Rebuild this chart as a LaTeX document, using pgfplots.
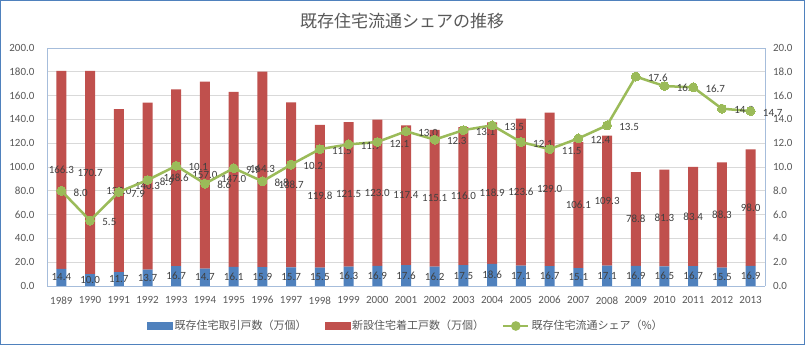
\documentclass[border=0pt]{standalone}
\usepackage{pgfplots}
\pgfplotsset{compat=1.18}
\usepackage{pgfplotstable}
\usepackage{fontspec}
\setmainfont{Carlito}
\newfontfamily\cjk{Noto Sans CJK JP}
\definecolor{xblue}{HTML}{4F81BD}
\definecolor{xred}{HTML}{C0504D}
\definecolor{xgreen}{HTML}{9BBB59}
\definecolor{xtext}{HTML}{595959}
\definecolor{xlab}{HTML}{404040}
\definecolor{xgrid}{HTML}{D9D9D9}
\definecolor{xaxis}{HTML}{A6BDDB}
\definecolor{xborder}{HTML}{4F81BD}

\pgfplotstableread{
x year blue red share
0 1989 14.4 166.3 8.0
1 1990 10.0 170.7 5.5
2 1991 11.7 137.0 7.9
3 1992 13.7 140.3 8.9
4 1993 16.7 148.6 10.1
5 1994 14.7 157.0 8.6
6 1995 16.1 147.0 9.9
7 1996 15.9 164.3 8.8
8 1997 15.7 138.7 10.2
9 1998 15.5 119.8 11.5
10 1999 16.3 121.5 11.9
11 2000 16.9 123.0 12.1
12 2001 17.6 117.4 13.0
13 2002 16.2 115.1 12.3
14 2003 17.5 116.0 13.1
15 2004 18.6 118.9 13.5
16 2005 17.1 123.6 12.1
17 2006 16.7 129.0 11.5
18 2007 15.1 106.1 12.4
19 2008 17.1 109.3 13.5
20 2009 16.9 78.8 17.6
21 2010 16.5 81.3 16.8
22 2011 16.7 83.4 16.7
23 2012 15.5 88.3 14.9
24 2013 16.9 98.0 14.7
}\data

\newcommand{\fs}{\fontsize{11bp}{13bp}\selectfont}

\pgfplotsset{
  base/.style={
    at={(47bp,59bp)}, anchor=south west,
    scale only axis, width=718bp, height=238bp,
    xmin=-0.5, xmax=24.5,
    /pgf/number format/.cd, fixed, fixed zerofill, precision=1, assume math mode=true,
    /pgfplots/.cd,
    tick style={draw=none},
    tick label style={font=\fs, text=xtext},
  }
}

\begin{document}
\begin{tikzpicture}
\useasboundingbox (0,0) rectangle (805bp,345bp);
\fill[white] (0,0) rectangle (805bp,345bp);
\draw[xborder, line width=1.2bp] (0.8bp,0.8bp) rectangle (804.2bp,344.2bp);

% bars
\begin{axis}[base,
  ybar stacked, bar width=10bp,
  ymin=0, ymax=200, ytick={0,20,...,200},
  xtick={0,...,24}, xticklabels from table={\data}{year},
  xticklabel style={yshift=-7bp},
  yticklabel style={xshift=-9bp},
  ymajorgrids, major grid style={xgrid, line width=0.8bp},
  axis line style={xaxis, line width=0.8bp},
  axis y line*=left, axis x line*=bottom,
]
\addplot[fill=xblue, draw=none] table[x=x, y=blue]{\data};
\addplot[fill=xred, draw=none] table[x=x, y=red]{\data};
\end{axis}

% top frame of plot area
\begin{axis}[base, ymin=0, ymax=200, axis x line*=top, axis y line=none,
  xticklabels={}, axis line style={xaxis, line width=0.8bp}]
\end{axis}

% bar labels
\begin{axis}[base, ymin=0, ymax=200, hide axis, clip=false,
  nodes near coords style={font=\fs, text=xlab, anchor=center}]
\addplot[draw=none, mark=none, nodes near coords, point meta=explicit]
  table[x=x, y expr=\thisrow{blue}/2, meta=blue]{\data};
\addplot[draw=none, mark=none, nodes near coords, point meta=explicit]
  table[x=x, y expr=\thisrow{blue}+\thisrow{red}/2, meta=red]{\data};
\end{axis}

% share line
\begin{axis}[base,
  ymin=0, ymax=20, ytick={0,2,...,20},
  axis y line*=right, axis x line=none,
  yticklabel style={xshift=4.5bp},
  axis line style={xaxis, line width=0.8bp},
  clip=false,
  legend style={at={(0.5,-0.168)}, anchor=center, draw=none, fill=none,
    legend columns=3, font=\cjk\fontsize{11bp}{13bp}\selectfont, text=xtext,
    /tikz/every even column/.append style={column sep=16bp},
    inner sep=0pt},
  legend cell align=left,
]
\addlegendimage{legend image code/.code={\fill[xblue] (0bp,-3.5bp) rectangle (25bp,3.5bp);}}
\addlegendentry{既存住宅取引戸数（万個）}
\addlegendimage{legend image code/.code={\fill[xred] (0bp,-3.5bp) rectangle (25bp,3.5bp);}}
\addlegendentry{新設住宅着工戸数（万個）}
\addplot[xgreen, line width=2.5bp, mark=*, mark size=4.5bp,
  mark options={fill=xgreen, draw=xgreen, line width=0pt},
  legend image code/.code={\draw[xgreen, line width=2.5bp] (0bp,0bp) -- (25bp,0bp);
    \fill[xgreen] (12.5bp,0bp) circle (3.5bp);},
  nodes near coords, point meta=explicit,
  nodes near coords style={font=\fs, text=xlab, anchor=west, xshift=9bp, yshift=-1.5bp}]
  table[x=x, y=share, meta=share]{\data};
\addlegendentry{既存住宅流通シェア（\%）}
\end{axis}

\node[font=\cjk\fontsize{17bp}{20bp}\selectfont, text=xtext] at (402bp,323.5bp) {既存住宅流通シェアの推移};
\end{tikzpicture}
\end{document}
